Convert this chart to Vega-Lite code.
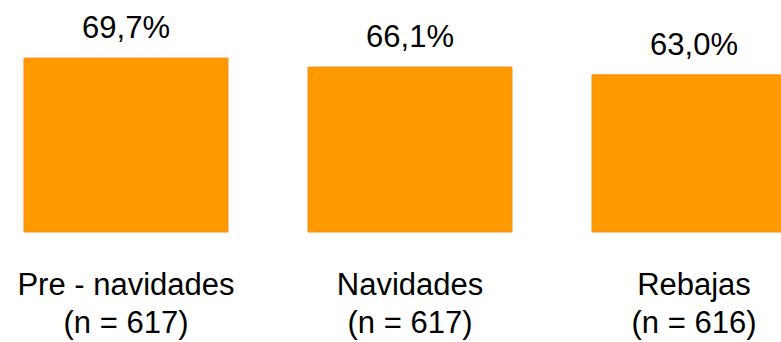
{
  "$schema": "https://vega.github.io/schema/vega-lite/v6.json",
  "autosize": "none",
  "padding": {"left": 0, "top": 0, "right": 0, "bottom": 110},
  "width": 820,
  "height": 232,
  "background": "white",
  "config": {"view": {"stroke": null}},
  "data": {
    "values": [
      {"periodo": "Pre - navidades|(n = 617)", "valor": 69.7, "etiqueta": "69,7%"},
      {"periodo": "Navidades|(n = 617)", "valor": 66.1, "etiqueta": "66,1%"},
      {"periodo": "Rebajas|(n = 616)", "valor": 63.0, "etiqueta": "63,0%"}
    ]
  },
  "encoding": {
    "x": {
      "field": "periodo",
      "type": "nominal",
      "sort": null,
      "scale": {"paddingInner": 0.2817, "paddingOuter": 0.0845},
      "axis": {
        "title": null,
        "domain": false,
        "ticks": false,
        "labelAngle": 0,
        "labelExpr": "split(datum.label, '|')",
        "labelFont": "Liberation Sans",
        "labelFontSize": 31,
        "labelColor": "#000000",
        "labelLineHeight": 38,
        "labelBaseline": "alphabetic",
        "labelPadding": 62,
        "labelOverlap": false,
        "labelLimit": 0
      }
    },
    "y": {
      "field": "valor",
      "type": "quantitative",
      "scale": {"domain": [0, 93], "nice": false},
      "axis": null
    }
  },
  "layer": [
    {"mark": {"type": "bar", "color": "#FF9900", "stroke": "#FF8A1A", "strokeWidth": 1}},
    {
      "mark": {"type": "text", "baseline": "alphabetic", "dy": -20, "font": "Liberation Sans", "fontSize": 31, "color": "#000000"},
      "encoding": {"text": {"field": "etiqueta"}}
    }
  ]
}
